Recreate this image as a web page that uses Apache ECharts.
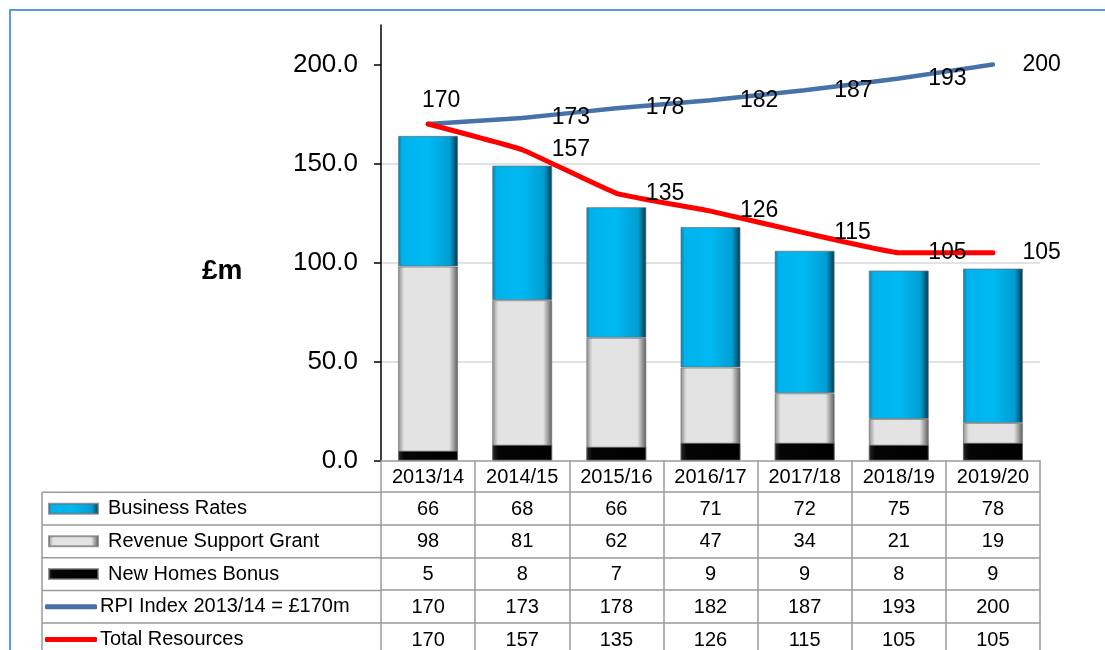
<!DOCTYPE html>
<html>
<head>
<meta charset="utf-8">
<script src="https://cdn.jsdelivr.net/npm/echarts@6/dist/echarts.min.js"></script>
<style>
html,body{margin:0;padding:0;background:#fff;}
#chart{width:1105px;height:650px;}
</style>
</head>
<body>
<div id="chart"></div>
<script>
// ---- data ----
const categories = ['2013/14','2014/15','2015/16','2016/17','2017/18','2018/19','2019/20'];
const businessRates = [66, 68, 66, 71, 72, 75, 78];
const revenueSupportGrant = [98, 81, 62, 47, 34, 21, 19];
const newHomesBonus = [5, 8, 7, 9, 9, 8, 9];
const rpiIndex = [170, 173, 178, 182, 187, 193, 200];
const totalResources = [170, 157, 135, 126, 115, 105, 105];
const yTicks = [0, 50, 100, 150, 200];
const seriesNames = ['Business Rates', 'Revenue Support Grant', 'New Homes Bonus', 'RPI Index 2013/14 = £170m', 'Total Resources'];

// ---- layout ----
const W = 1105, H = 650;
const GRID_LEFT = 381, GRID_RIGHT = 65, GRID_TOP = 25, GRID_BOTTOM = 189;
const AXIS_Y = H - GRID_BOTTOM;            // 461
const HEADER_H = 31.3, ROW_H = 32.7;
const TABLE_LEFT = 42;
const BORDER = '#9a9a9a';
const FONT = '"Liberation Sans", Arial, sans-serif';

const rowOffsets = [0];
for (let i = 0; i < 5; i++) rowOffsets.push(HEADER_H + i * ROW_H);
const rowLines = rowOffsets.map(o => AXIS_Y + o);

function grad(stops) {
  return new echarts.graphic.LinearGradient(0, 0, 1, 0, stops.map(s => ({offset: s[0], color: s[1]})));
}
const brColor = grad([[0,'#0b7fa8'],[0.07,'#00b2ec'],[0.5,'#00b9f2'],[0.86,'#009ed3'],[1,'#00384f']]);
const rsgColor = grad([[0,'#8c8c8c'],[0.1,'#e3e3e3'],[0.85,'#e3e3e3'],[1,'#5c5c5c']]);
const nhbColor = grad([[0,'#2a2a2a'],[0.1,'#050505'],[0.9,'#000'],[1,'#000']]);
const barBorder = {borderColor: 'rgba(110,110,110,0.7)', borderWidth: 1};

function rowAxis(idx, values) {
  const h = idx === 0 ? HEADER_H : ROW_H;
  return {
    type: 'category', gridIndex: 0, position: 'bottom', offset: rowOffsets[idx],
    data: categories, boundaryGap: true,
    axisLine: {show: true, lineStyle: {color: BORDER, width: 1.5}},
    axisTick: {show: true, interval: 0, length: h, inside: false, lineStyle: {color: BORDER, width: 1.5}},
    axisLabel: {
      interval: 0, margin: (h - 20) / 2 + 1, fontSize: 20, color: '#000', fontFamily: FONT,
      formatter: (v, i) => values ? String(values[i]) : v
    },
    splitLine: {show: false}
  };
}

const xAxes = [
  rowAxis(0, null),
  rowAxis(1, businessRates),
  rowAxis(2, revenueSupportGrant),
  rowAxis(3, newHomesBonus),
  rowAxis(4, rpiIndex),
  rowAxis(5, totalResources)
];

// one legend entry per table row, placed in the table's first column
const legends = seriesNames.map((name, i) => {
  const isLine = i >= 3;
  return {
    data: [name], orient: 'vertical', padding: 0, selectedMode: false,
    left: TABLE_LEFT + (isLine ? 3 : 6),
    top: rowLines[i + 1] + ROW_H / 2 - 12,
    itemWidth: isLine ? 52 : 49, itemHeight: isLine ? 5 : 10,
    icon: isLine ? 'roundRect' : 'rect',
    textStyle: {fontSize: 20, lineHeight: 24, color: '#000', fontFamily: FONT, padding: [0, 0, 0, isLine ? -2 : 5]}
  };
});

// left column borders of the data table
const graphics = [];
for (let i = 1; i < rowLines.length; i++) {
  graphics.push({type: 'line', silent: true, shape: {x1: TABLE_LEFT, y1: rowLines[i], x2: GRID_LEFT, y2: rowLines[i]},
    style: {stroke: BORDER, lineWidth: 1.5}});
}
graphics.push({type: 'line', silent: true, shape: {x1: TABLE_LEFT, y1: rowLines[1], x2: TABLE_LEFT, y2: H + 20},
  style: {stroke: BORDER, lineWidth: 1.5}});
// outer frame
graphics.push({type: 'rect', silent: true, shape: {x: 10, y: 10, width: W + 40, height: H + 40},
  style: {fill: 'none', stroke: '#5b9bd5', lineWidth: 2}});

const lineLabel = {show: true, position: 'right', distance: 29, fontSize: 23, color: '#000', fontFamily: FONT};

const option = {
  animation: false,
  backgroundColor: '#fff',
  textStyle: {fontFamily: FONT},
  title: {text: '£m', left: 197, top: 252, textStyle: {fontSize: 28, fontWeight: 'bold', color: '#000', fontFamily: FONT}},
  grid: {left: GRID_LEFT, right: GRID_RIGHT, top: GRID_TOP, bottom: GRID_BOTTOM, containLabel: false},
  legend: legends,
  xAxis: xAxes,
  yAxis: {
    type: 'value', min: 0, max: 220, interval: 50,
    axisLine: {show: true, lineStyle: {color: '#000', width: 1.5}},
    axisTick: {show: true, length: 7, customValues: yTicks, lineStyle: {color: '#000', width: 1.5}},
    axisLabel: {fontSize: 26, color: '#000', margin: 23, fontFamily: FONT, customValues: yTicks,
      formatter: v => v.toFixed(1)},
    splitLine: {show: true, showMinLine: false, showMaxLine: false, lineStyle: {color: '#d9d9d9', width: 1.5}}
  },
  graphic: graphics,
  series: [
    {
      name: 'Revenue Support Grant', type: 'bar', stack: 'res', barWidth: 60, barGap: '-100%',
      data: revenueSupportGrant, itemStyle: Object.assign({color: rsgColor}, barBorder), z: 2
    },
    {
      name: 'Business Rates', type: 'bar', stack: 'res', barWidth: 60,
      data: businessRates, itemStyle: Object.assign({color: brColor}, barBorder), z: 2
    },
    {
      name: 'New Homes Bonus', type: 'bar', barWidth: 60, barGap: '-100%',
      data: newHomesBonus, itemStyle: Object.assign({color: nhbColor}, barBorder), z: 3
    },
    {
      name: 'Total Resources', type: 'line', data: totalResources.map((v, i) => i === 0 ? {value: v, label: {show: false}} : v),
      symbol: 'circle', symbolSize: 1, smooth: 0.1, z: 5,
      itemStyle: {color: '#ff0000'}, lineStyle: {color: '#ff0000', width: 5, cap: 'round'},
      label: lineLabel
    },
    {
      name: 'RPI Index 2013/14 = £170m', type: 'line',
      data: rpiIndex.map((v, i) => i === 0 ? {value: v, label: {position: 'top', distance: 11, offset: [13, 0]}} : v),
      symbol: 'circle', symbolSize: 1, smooth: 0.1, z: 4,
      itemStyle: {color: '#4672a9'}, lineStyle: {color: '#4672a9', width: 4.5, cap: 'round'},
      label: lineLabel
    }
  ]
};

const chart = echarts.init(document.getElementById('chart'), null, {renderer: 'canvas'});
chart.setOption(option);
</script>
</body>
</html>
